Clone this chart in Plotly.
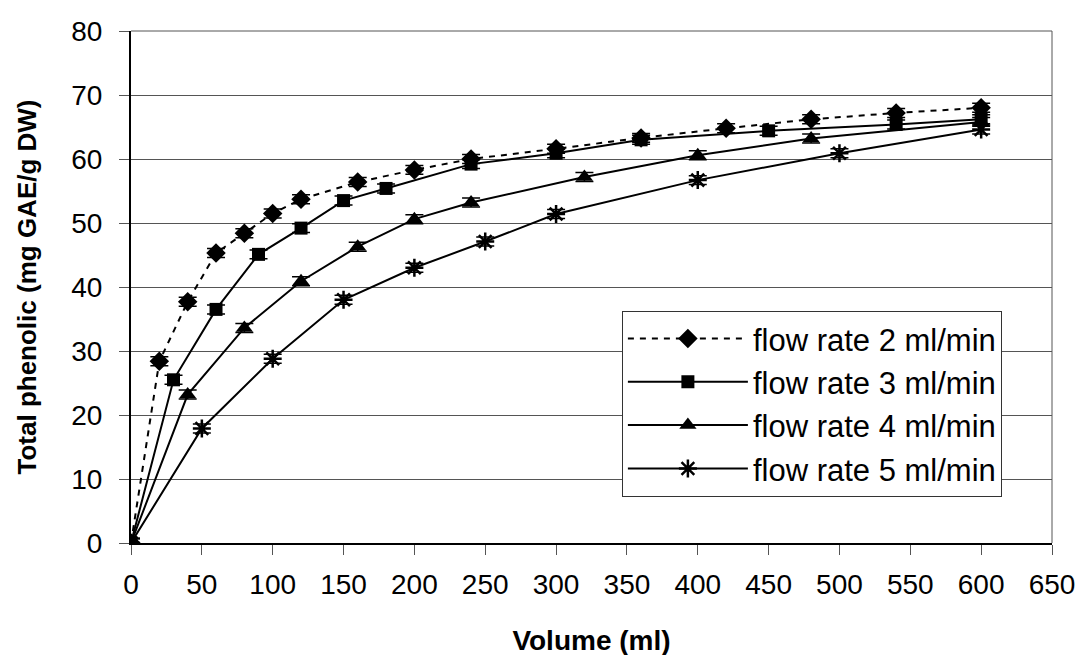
import plotly.graph_objects as go

# Data
x_2 = [0, 20, 40, 60, 80, 100, 120, 160, 200, 240, 300, 360, 420, 480, 540, 600]
y_2 = [0, 28.4, 37.7, 45.3, 48.4, 51.5, 53.7, 56.4, 58.3, 60.0, 61.6, 63.3, 64.8, 66.2, 67.2, 68.0]

x_3 = [0, 30, 60, 90, 120, 150, 180, 240, 300, 360, 450, 540, 600]
y_3 = [0, 25.5, 36.5, 45.1, 49.2, 53.5, 55.4, 59.2, 60.9, 63.0, 64.4, 65.4, 66.2]

x_4 = [0, 40, 80, 120, 160, 200, 240, 320, 400, 480, 600]
y_4 = [0, 23.2, 33.6, 40.9, 46.3, 50.6, 53.2, 57.2, 60.6, 63.2, 65.8]

x_5 = [0, 50, 100, 150, 200, 250, 300, 400, 500, 600]
y_5 = [0, 17.9, 28.8, 38.0, 43.0, 47.1, 51.4, 56.7, 60.9, 64.6]

err = 0.7
names = ["flow rate 2 ml/min", "flow rate 3 ml/min", "flow rate 4 ml/min", "flow rate 5 ml/min"]

FONT = "Liberation Sans, Arial, sans-serif"

fig = go.Figure()

series = [
    (x_2, y_2, names[0], "diamond", 15, dict(color="black", width=2, dash="6px,6px"), 0),
    (x_3, y_3, names[1], "square", 13, dict(color="black", width=2), 0),
    (x_4, y_4, names[2], "triangle-up", 15, dict(color="black", width=2), 0),
    (x_5, y_5, names[3], "asterisk-open", 15, dict(color="black", width=2), 2.5),
]

for xs, ys, nm, sym, sz, ln, mlw in series:
    fig.add_trace(go.Scatter(
        x=xs, y=ys, name=nm, mode="lines+markers",
        line=ln,
        marker=dict(symbol=sym, size=sz, color="black",
                    line=dict(color="black", width=mlw)),
        error_y=dict(type="constant", value=err, color="black",
                     thickness=1.5, width=9),
    ))

fig.update_layout(
    width=1084, height=655,
    paper_bgcolor="white", plot_bgcolor="white",
    margin=dict(l=123, r=40, t=23, b=120, autoexpand=False),
    font=dict(family=FONT, size=28, color="black"),
    showlegend=True,
    legend=dict(
        x=0.533, y=0.4534, xanchor="left", yanchor="top",
        bgcolor="white", bordercolor="#333333", borderwidth=1,
        font=dict(family=FONT, size=31, color="black"),
        tracegroupgap=0, itemwidth=120,
    ),
)

fig.update_xaxes(
    range=[0, 650], dtick=50, tick0=0, automargin=False,
    showgrid=False, zeroline=False,
    showline=True, linecolor="black", linewidth=2,
    ticks="outside", ticklen=10, tickcolor="#555555", tickwidth=1,
    ticklabelstandoff=5,
    tickfont=dict(family=FONT, size=28, color="black"),
    title=dict(text="<b>Volume (ml)</b>", font=dict(family=FONT, size=28, color="black"),
               standoff=32),
)

fig.update_yaxes(
    range=[0, 80], dtick=10, tick0=0, automargin=False,
    showgrid=True, gridcolor="#555555", gridwidth=1,
    zeroline=False,
    showline=True, linecolor="black", linewidth=2,
    ticks="outside", ticklen=10, tickcolor="#555555", tickwidth=1,
    ticklabelstandoff=11,
    tickfont=dict(family=FONT, size=28, color="black"),
    title=dict(text="<b>Total phenolic (mg GAE/g DW)</b>",
               font=dict(family=FONT, size=26, color="black"), standoff=27),
)

# plot-area border (top and right, grey)
fig.add_shape(type="line", xref="paper", yref="paper", x0=0, x1=1, y0=1, y1=1,
              line=dict(color="#555555", width=1))
fig.add_shape(type="line", xref="paper", yref="paper", x0=1, x1=1, y0=0, y1=1,
              line=dict(color="#555555", width=1))

fig.write_html("out.html")
